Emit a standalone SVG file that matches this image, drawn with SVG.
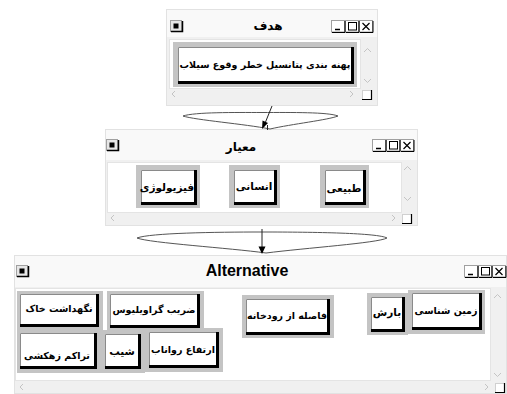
<svg xmlns="http://www.w3.org/2000/svg" width="507" height="394" viewBox="0 0 507 394">
<style>
.win{fill:#f0f0f0;stroke:#e2e2e2;stroke-width:1}
.bar{fill:#f9f9f9}
.cnt{fill:#ffffff;stroke:#e4e4e4;stroke-width:1}
.chev{fill:none;stroke:#c4c4c4;stroke-width:1}
.title{font-family:"DejaVu Sans",sans-serif;font-weight:bold;font-size:12px;fill:#000;text-anchor:middle}
.alt{font-family:"Liberation Sans",Arial,sans-serif;font-weight:bold;font-size:16px;fill:#000;text-anchor:middle}
.lbl{font-family:"DejaVu Sans",sans-serif;font-weight:bold;font-size:9.5px;fill:#000;text-anchor:middle}
.big{font-size:10.5px}
.frame{fill:#c4c4c4}
.face{fill:#ffffff}
.hl{fill:none;stroke:#8a8a8a;stroke-width:1}
.sh{fill:none;stroke:#000;stroke-width:3}
.conn{fill:none;stroke:#222;stroke-width:1}
.lens{fill:none;stroke:#555;stroke-width:1}
</style>
<defs>
<g id="lbtn">
<rect x="0.5" y="0.5" width="11" height="11" fill="#e6e6e6" stroke="#a0a0a0"/>
<path d="M1 11.5H12.5V1" fill="none" stroke="#000" stroke-width="1.5"/>
<rect x="3.5" y="3.5" width="5" height="5" fill="#000"/>
</g>
<g id="rbtn">
<rect x="0.5" y="0.5" width="13" height="11.5" fill="#fff" stroke="#a0a0a0"/>
<rect x="14.5" y="0.5" width="13" height="11.5" fill="#fff" stroke="#a0a0a0"/>
<rect x="28.5" y="0.5" width="13" height="11.5" fill="#fff" stroke="#a0a0a0"/>
<path d="M1 12.5H14V1M15 12.5H28V1M29 12.5H42V1" fill="none" stroke="#000" stroke-width="1"/>
<path d="M4 9.5H9" stroke="#000" stroke-width="1.5"/>
<rect x="17.5" y="2.5" width="8" height="7.5" fill="none" stroke="#000"/>
<path d="M31.5 3L38.5 10M38.5 3L31.5 10" stroke="#000" stroke-width="1.2"/>
</g>
<g id="grip">
<rect x="0.5" y="0.5" width="9" height="9" fill="#fff" stroke="#d0d0d0"/>
<path d="M0 9.5H9.5V0" fill="none" stroke="#000" stroke-width="1.2"/>
</g>
</defs>

<!-- Top window: هدف -->
<g id="win-goal">
<rect class="win" x="166.5" y="9.5" width="211" height="96"/>
<rect class="bar" x="167" y="10" width="210" height="27"/>
<use href="#lbtn" x="170" y="20"/>
<text class="title" x="268" y="30">هدف</text>
<use href="#rbtn" x="331" y="20"/>
<rect class="cnt" x="169.5" y="39.5" width="191" height="49"/>
<path class="chev" d="M364 52L367.5 48.5L371 52M364 79L367.5 82.5L371 79"/>
<path class="chev" d="M175 91L172 94L175 97M350 91L353 94L350 97"/>
<use href="#grip" x="362" y="90"/>
</g>
<g id="node-goal">
<rect class="frame" x="173" y="42" width="184" height="45"/>
<rect class="face" x="178" y="47" width="174" height="35"/>
<path class="hl" d="M178.5 81V47.5H351"/>
<path class="sh" d="M178 82.5H352.5V47"/>
<text class="lbl" x="265" y="68">پهنه بندی پتانسیل خطر وقوع سیلاب</text>
</g>

<!-- Middle window: معيار -->
<g id="win-criteria">
<rect class="win" x="105.5" y="129.5" width="312" height="96"/>
<rect class="bar" x="106" y="130" width="311" height="30"/>
<use href="#lbtn" x="106" y="139"/>
<text class="title" x="241" y="151">معيار</text>
<use href="#rbtn" x="372" y="139"/>
<rect class="cnt" x="107.5" y="162.5" width="294" height="50"/>
<path class="chev" d="M404 170L407.5 166.5L411 170M404 197L407.5 200.5L411 197"/>
<path class="chev" d="M114 215L111 218L114 221M392 215L395 218L392 221"/>
<use href="#grip" x="402" y="214"/>
</g>
<g id="node-physio">
<rect class="frame" x="136" y="165" width="64" height="43"/>
<rect class="face" x="141" y="170" width="54" height="33"/>
<path class="hl" d="M141.5 202V170.5H194"/>
<path class="sh" d="M141 203.5H195.5V170"/>
<text class="lbl big" x="167" y="191">فیزیولوژی</text>
</g>
<g id="node-human">
<rect class="frame" x="229" y="165" width="51" height="43"/>
<rect class="face" x="234" y="170" width="41" height="33"/>
<path class="hl" d="M234.5 202V170.5H274"/>
<path class="sh" d="M234 203.5H275.5V170"/>
<text class="lbl big" x="254" y="190">انسانی</text>
</g>
<g id="node-natural">
<rect class="frame" x="320" y="165" width="49" height="43"/>
<rect class="face" x="325" y="170" width="39" height="33"/>
<path class="hl" d="M325.5 202V170.5H363"/>
<path class="sh" d="M325 203.5H364.5V170"/>
<text class="lbl big" x="344" y="192">طبیعی</text>
</g>

<!-- Bottom window: Alternative -->
<g id="win-alt">
<rect class="win" x="14.5" y="255.5" width="492" height="138"/>
<rect class="bar" x="15" y="256" width="491" height="31"/>
<use href="#lbtn" x="16" y="265"/>
<text class="alt" x="247" y="276">Alternative</text>
<use href="#rbtn" x="464" y="265"/>
<rect class="cnt" x="15.5" y="288.5" width="475" height="92"/>
<path class="chev" d="M494 298L497.5 294.5L501 298M494 373L497.5 376.5L501 373"/>
<path class="chev" d="M23 384L20 387L23 390M485 384L488 387L485 390"/>
<use href="#grip" x="495" y="383"/>
</g>

<g id="node-geology">
<rect class="frame" x="408" y="290" width="77" height="44"/>
<rect class="face" x="412" y="293" width="68" height="35"/>
<path class="hl" d="M412.5 327V293.5H479"/>
<path class="sh" d="M412 328.5H480.5V293"/>
<text class="lbl" x="446" y="314">زمین شناسی</text>
</g>
<g id="node-rain">
<rect class="frame" x="367" y="293" width="41" height="42"/>
<rect class="face" x="371" y="297" width="32" height="33"/>
<path class="hl" d="M371.5 329V297.5H402"/>
<path class="sh" d="M371 330.5H403.5V297"/>
<text class="lbl big" x="387" y="316">بارش</text>
</g>
<g id="node-river">
<rect class="frame" x="242" y="295" width="92" height="43"/>
<rect class="face" x="246" y="299" width="82" height="34"/>
<path class="hl" d="M246.5 332V299.5H327"/>
<path class="sh" d="M246 333.5H328.5V299"/>
<text class="lbl" x="287" y="319">فاصله از رودخانه</text>
</g>
<g id="node-gravelius">
<rect class="frame" x="107" y="291" width="97" height="41"/>
<rect class="face" x="110" y="294" width="88" height="32"/>
<path class="hl" d="M110.5 325V294.5H197"/>
<path class="sh" d="M110 326.5H198.5V294"/>
<text class="lbl" x="154" y="313">ضریب گراویلیوس</text>
</g>
<g id="node-soil">
<rect class="frame" x="17" y="291" width="86" height="40"/>
<rect class="face" x="20" y="294" width="77" height="31"/>
<path class="hl" d="M20.5 324V294.5H96"/>
<path class="sh" d="M20 325.5H97.5V294"/>
<text class="lbl" x="59" y="312">نگهداشت خاک</text>
</g>
<g id="node-runoff">
<rect class="frame" x="145" y="328" width="78" height="44"/>
<rect class="face" x="149" y="332" width="68" height="34"/>
<path class="hl" d="M149.5 365V332.5H216"/>
<path class="sh" d="M149 366.5H217.5V332"/>
<text class="lbl" x="183" y="353">ارتفاع رواناب</text>
</g>
<g id="node-slope">
<rect class="frame" x="101" y="330" width="44" height="43"/>
<rect class="face" x="105" y="334" width="34" height="33"/>
<path class="hl" d="M105.5 366V334.5H138"/>
<path class="sh" d="M105 367.5H139.5V334"/>
<text class="lbl big" x="122" y="355">شیب</text>
</g>
<g id="node-drainage">
<rect class="frame" x="17" y="330" width="84" height="43"/>
<rect class="face" x="20" y="333" width="75" height="34"/>
<path class="hl" d="M20.5 366V333.5H94"/>
<path class="sh" d="M20 367.5H95.5V333"/>
<text class="lbl" x="57" y="359">تراکم زهکشی</text>
</g>

<!-- Connectors -->
<g id="connectors">
<path class="lens" d="M183 116C195 112 235 112.5 262 112.5C292 112.5 328 112 338 116C328 120 292 124 270 129C245 124 195 120 183 116Z"/>
<path class="conn" d="M272 106L263.5 127"/>
<path d="M262 129L262.5 120.5L268 123Z" fill="#000"/>
<path class="conn" d="M267.5 125V130"/>
<path class="lens" d="M137 238C150 233 215 232 262 232C315 232 378 233 387 238C378 243 305 248 266 253C230 248 150 243 137 238Z"/>
<path class="conn" d="M262 229V250"/>
<path d="M262 254L258.5 246.5H265.5Z" fill="#000"/>
</g>
</svg>
